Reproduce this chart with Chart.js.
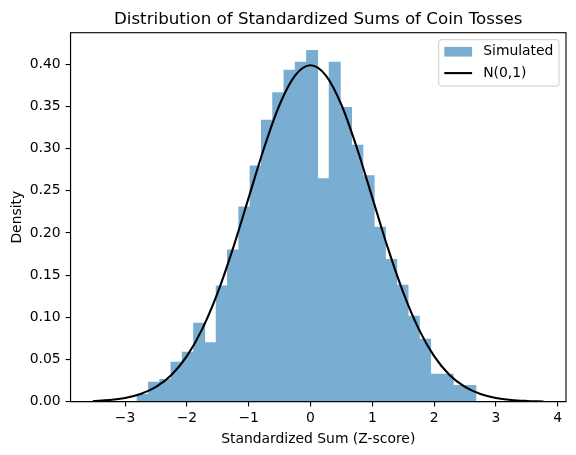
<!DOCTYPE html>
<html>
<head>
<meta charset="utf-8">
<script src="https://cdn.jsdelivr.net/npm/chart.js@4.4.1/dist/chart.umd.min.js"></script>
<style>
  html, body { margin: 0; padding: 0; background: #fff; }
  canvas { display: block; }
</style>
</head>
<body>
<canvas id="c" width="576" height="455"></canvas>
<script>
// ---- data ----
const binCenters = [-2.7156, -2.5328, -2.35, -2.1672, -1.9844, -1.8016, -1.6188, -1.436, -1.2532, -1.0704,
                    -0.8876, -0.7048, -0.522, -0.3392, -0.1564, 0.0264, 0.2092, 0.392, 0.5748, 0.7576,
                    0.9404, 1.1232, 1.306, 1.4888, 1.6716, 1.8544, 2.0372, 2.22, 2.4028, 2.5856];
const binDensity = [0.0088, 0.0234, 0.0266, 0.0471, 0.0589, 0.0933, 0.0700, 0.1375, 0.1800, 0.2310,
                    0.2798, 0.3340, 0.3664, 0.3933, 0.4028, 0.4167, 0.2644, 0.4028, 0.3490, 0.3044,
                    0.2680, 0.2071, 0.1688, 0.1384, 0.1016, 0.0743, 0.0328, 0.0328, 0.0194, 0.0194];
const curveX = [-3.52, -3.25, -3.0, -2.75, -2.5, -2.25, -2.0, -1.75, -1.5, -1.25, -1.0, -0.75, -0.5, -0.25, 0,
                0.25, 0.5, 0.75, 1.0, 1.25, 1.5, 1.75, 2.0, 2.25, 2.5, 2.75, 3.0, 3.25, 3.5, 3.77];
const curveY = [0.0008, 0.0020, 0.0044, 0.0091, 0.0175, 0.0317, 0.0540, 0.0863, 0.1295, 0.1826, 0.2420,
                0.3011, 0.3521, 0.3867, 0.3989, 0.3867, 0.3521, 0.3011, 0.2420, 0.1826, 0.1295, 0.0863,
                0.0540, 0.0317, 0.0175, 0.0091, 0.0044, 0.0020, 0.0009, 0.0003];
const xTicks = [-3, -2, -1, 0, 1, 2, 3, 4];
const yTicks = [0.00, 0.05, 0.10, 0.15, 0.20, 0.25, 0.30, 0.35, 0.40];
const seriesNames = ['Simulated', 'N(0,1)'];
const chartTitle = 'Distribution of Standardized Sums of Coin Tosses';
const xTitle = 'Standardized Sum (Z-score)';
const yTitle = 'Density';

// ---- styling ----
const FONT = '"DejaVu Sans", "Liberation Sans", sans-serif';
const BAR_COLOR = '#79add2';
Chart.defaults.color = '#000';
Chart.defaults.font.family = FONT;

const histData = binCenters.map((x, i) => ({ x: x, y: binDensity[i] }));
const curveData = curveX.map((x, i) => ({ x: x, y: curveY[i] }));

const decor = {
  id: 'decor',
  afterDraw(chart) {
    const { ctx, chartArea: a } = chart;
    ctx.save();
    // spines
    ctx.strokeStyle = '#000';
    ctx.lineWidth = 1.1;
    ctx.strokeRect(a.left, a.top, a.right - a.left, a.bottom - a.top);
    // title
    ctx.fillStyle = '#000';
    ctx.font = '16.7px ' + FONT;
    ctx.textAlign = 'center';
    ctx.textBaseline = 'alphabetic';
    ctx.fillText(chartTitle, (a.left + a.right) / 2, a.top - 8.3);
    // legend
    const bx = a.right - 7 - 120.3, by = a.top + 7, bw = 120.3, bh = 46.4;
    ctx.beginPath();
    ctx.roundRect(bx, by, bw, bh, 2.5);
    ctx.fillStyle = 'rgba(255,255,255,0.8)';
    ctx.fill();
    ctx.strokeStyle = '#cccccc';
    ctx.lineWidth = 1;
    ctx.stroke();
    const hx = bx + 5.6, hw = 27.8;
    const r1 = by + 12, r2 = by + 33.4;
    ctx.fillStyle = BAR_COLOR;
    ctx.fillRect(hx, r1 - 4.85, hw, 9.7);
    ctx.beginPath();
    ctx.moveTo(hx, r2);
    ctx.lineTo(hx + hw, r2);
    ctx.strokeStyle = '#000';
    ctx.lineWidth = 2.1;
    ctx.stroke();
    ctx.fillStyle = '#000';
    ctx.font = '13.9px ' + FONT;
    ctx.textAlign = 'left';
    ctx.textBaseline = 'middle';
    ctx.fillText(seriesNames[0], hx + hw + 11.1, r1);
    ctx.fillText(seriesNames[1], hx + hw + 11.1, r2);
    ctx.restore();
  }
};

new Chart(document.getElementById('c'), {
  type: 'bar',
  data: {
    datasets: [
      {
        type: 'line',
        label: seriesNames[1],
        data: curveData,
        borderColor: '#000',
        borderWidth: 2.1,
        pointRadius: 0,
        fill: false,
        cubicInterpolationMode: 'monotone',
        order: 0
      },
      {
        type: 'bar',
        label: seriesNames[0],
        data: histData,
        backgroundColor: BAR_COLOR,
        borderWidth: 0,
        barPercentage: 1.0,
        categoryPercentage: 1.0,
        order: 1
      }
    ]
  },
  options: {
    responsive: false,
    animation: false,
    events: [],
    layout: { padding: { left: 0, right: 10, top: 32.7, bottom: 0 } },
    plugins: {
      legend: { display: false },
      title: { display: false },
      tooltip: { enabled: false }
    },
    scales: {
      x: {
        type: 'linear',
        min: -3.883,
        max: 4.134,
        offset: false,
        grid: { offset: false, drawOnChartArea: false, color: '#000', lineWidth: 1.1, tickLength: 4.9 },
        border: { display: true, color: '#000', width: 1.1 },
        afterBuildTicks: (s) => { s.ticks = xTicks.map(v => ({ value: v })); },
        afterFit: (s) => { s.height = 53.3; },
        ticks: {
          padding: 3.5,
          font: { size: 13.9 },
          maxRotation: 0,
          callback: (v) => (v < 0 ? '\u2212' + Math.abs(v) : String(v))
        },
        title: { display: true, text: xTitle, font: { size: 13.9 }, padding: { top: 0, bottom: 7.7 } }
      },
      y: {
        type: 'linear',
        min: 0,
        max: 0.4375,
        grid: { drawOnChartArea: false, color: '#000', lineWidth: 1.1, tickLength: 4.9 },
        border: { display: true, color: '#000', width: 1.1 },
        afterBuildTicks: (s) => { s.ticks = yTicks.map(v => ({ value: v })); },
        afterFit: (s) => { s.width = 70.5; },
        ticks: {
          padding: 4.9,
          font: { size: 13.9 },
          callback: (v) => Number(v).toFixed(2)
        },
        title: { display: true, text: yTitle, font: { size: 13.9 }, padding: { top: 8.7, bottom: 0 } }
      }
    }
  },
  plugins: [decor]
});
</script>
</body>
</html>
